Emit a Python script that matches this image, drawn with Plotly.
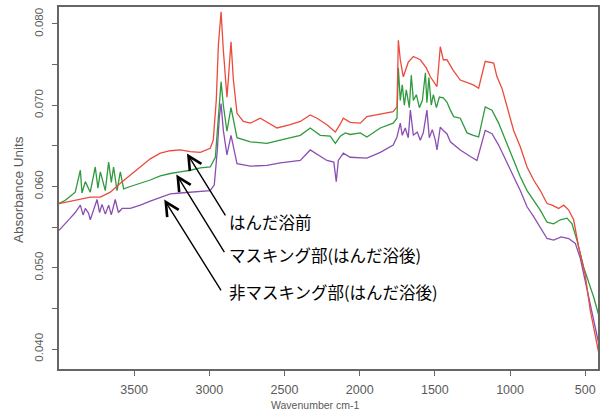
import plotly.graph_objects as go

# ---------------- data ----------------
red_wn = [4000, 3925, 3858, 3792, 3725, 3659, 3592, 3526, 3459, 3393, 3326, 3260, 3193, 3127, 3060, 2994, 2974, 2954, 2940, 2922,
          2907, 2883, 2874, 2856, 2840, 2816, 2774, 2727, 2661, 2617, 2550, 2462, 2395, 2329, 2284, 2218, 2162, 2129, 2109, 2063,
          1996, 1952, 1863, 1777, 1752, 1743, 1730, 1710, 1677, 1643, 1597, 1557, 1530, 1486, 1464, 1444, 1420, 1378, 1331, 1286,
          1244, 1209, 1165, 1109, 1087, 1054, 1020, 976, 932, 887, 843, 799, 754, 721, 677, 643, 610, 577, 544, 500,
          467, 433, 400]
red_abs = [0.0579, 0.0582, 0.0584, 0.0587, 0.0587, 0.0593, 0.0604, 0.0614, 0.0624, 0.0634, 0.0641, 0.0644, 0.0645, 0.0643, 0.0642, 0.0647, 0.0657, 0.0706, 0.0774, 0.0815,
           0.0768, 0.0710, 0.0731, 0.0778, 0.0731, 0.0690, 0.0680, 0.0678, 0.0684, 0.0679, 0.0672, 0.0676, 0.0680, 0.0688, 0.0684, 0.0676, 0.0667, 0.0677, 0.0684, 0.0679,
           0.0678, 0.0686, 0.0689, 0.0692, 0.0698, 0.0780, 0.0756, 0.0735, 0.0753, 0.0760, 0.0756, 0.0746, 0.0735, 0.0723, 0.0772, 0.0756, 0.0756, 0.0743, 0.0731, 0.0728,
           0.0725, 0.0721, 0.0754, 0.0752, 0.0735, 0.0721, 0.0698, 0.0669, 0.0649, 0.0624, 0.0608, 0.0595, 0.0579, 0.0577, 0.0573, 0.0577, 0.0571, 0.0559, 0.0526, 0.0491,
           0.0448, 0.0414, 0.0386]

green_wn = [4000, 3958, 3925, 3892, 3858, 3847, 3825, 3803, 3792, 3759, 3741, 3725, 3692, 3670, 3652, 3637, 3614, 3592, 3570, 3526,
            3459, 3393, 3326, 3260, 3193, 3127, 3060, 2994, 2960, 2940, 2922, 2907, 2883, 2856, 2816, 2727, 2617, 2528, 2395, 2329,
            2262, 2196, 2162, 2129, 2096, 2063, 1996, 1952, 1863, 1777, 1752, 1743, 1730, 1717, 1703, 1690, 1670, 1657, 1643, 1623,
            1603, 1583, 1563, 1553, 1540, 1524, 1510, 1490, 1470, 1444, 1420, 1397, 1375, 1331, 1286, 1244, 1209, 1165, 1120, 1076,
            1020, 976, 932, 887, 843, 799, 754, 710, 666, 621, 588, 555, 511, 444, 400]
green_abs = [0.0579, 0.0583, 0.0588, 0.0593, 0.0620, 0.0592, 0.0606, 0.0598, 0.0593, 0.0624, 0.0598, 0.0618, 0.0595, 0.0630, 0.0605, 0.0624, 0.0595, 0.0618, 0.0597, 0.0600,
             0.0604, 0.0608, 0.0613, 0.0616, 0.0618, 0.0620, 0.0623, 0.0624, 0.0636, 0.0682, 0.0729, 0.0700, 0.0668, 0.0697, 0.0660, 0.0655, 0.0653, 0.0657, 0.0663, 0.0672,
             0.0663, 0.0662, 0.0653, 0.0662, 0.0666, 0.0664, 0.0666, 0.0661, 0.0672, 0.0678, 0.0684, 0.0746, 0.0706, 0.0725, 0.0700, 0.0719, 0.0697, 0.0737, 0.0706, 0.0713,
             0.0697, 0.0706, 0.0740, 0.0703, 0.0734, 0.0700, 0.0713, 0.0697, 0.0710, 0.0709, 0.0704, 0.0694, 0.0686, 0.0684, 0.0666, 0.0663, 0.0661, 0.0698, 0.0694, 0.0678,
             0.0653, 0.0632, 0.0612, 0.0595, 0.0583, 0.0571, 0.0556, 0.0554, 0.0559, 0.0561, 0.0554, 0.0534, 0.0501, 0.0464, 0.0435]

purple_wn = [4000, 3958, 3925, 3892, 3858, 3840, 3825, 3803, 3792, 3770, 3747, 3730, 3714, 3692, 3670, 3652, 3626, 3605, 3580, 3526,
             3459, 3393, 3326, 3260, 3193, 3127, 3060, 2994, 2967, 2947, 2934, 2922, 2907, 2883, 2856, 2816, 2727, 2617, 2528, 2395,
             2329, 2262, 2218, 2172, 2156, 2142, 2109, 2063, 1996, 1952, 1863, 1777, 1752, 1730, 1717, 1697, 1677, 1663, 1643, 1617,
             1597, 1577, 1553, 1537, 1517, 1497, 1486, 1464, 1444, 1420, 1397, 1331, 1264, 1220, 1165, 1120, 1076, 1020, 976, 932,
             887, 843, 799, 754, 710, 660, 610, 566, 533, 467, 422, 400]
purple_abs = [0.0546, 0.0554, 0.0561, 0.0568, 0.0577, 0.0565, 0.0573, 0.0567, 0.0559, 0.0571, 0.0584, 0.0568, 0.0578, 0.0566, 0.0577, 0.0565, 0.0584, 0.0568, 0.0573, 0.0573,
              0.0577, 0.0582, 0.0587, 0.0591, 0.0592, 0.0593, 0.0594, 0.0595, 0.0602, 0.0645, 0.0684, 0.0702, 0.0669, 0.0639, 0.0663, 0.0628, 0.0625, 0.0626, 0.0629, 0.0632,
              0.0645, 0.0637, 0.0632, 0.0630, 0.0606, 0.0632, 0.0641, 0.0636, 0.0635, 0.0635, 0.0642, 0.0651, 0.0661, 0.0678, 0.0663, 0.0672, 0.0660, 0.0694, 0.0663, 0.0667,
              0.0657, 0.0666, 0.0694, 0.0660, 0.0670, 0.0657, 0.0645, 0.0673, 0.0669, 0.0665, 0.0655, 0.0645, 0.0637, 0.0632, 0.0669, 0.0665, 0.0651, 0.0628, 0.0612, 0.0595,
              0.0575, 0.0563, 0.0550, 0.0536, 0.0534, 0.0538, 0.0536, 0.0530, 0.0512, 0.0456, 0.0415, 0.0398]

x_ticks = [3500, 3000, 2500, 2000, 1500, 1000, 500]
y_ticks = [0.040, 0.045, 0.050, 0.055, 0.060, 0.065, 0.070, 0.075, 0.080]
y_tick_labels = ["0.040", "", "0.050", "", "0.060", "", "0.070", "", "0.080"]

labels = ["はんだ浴前", "マスキング部(はんだ浴後)", "非マスキング部(はんだ浴後)"]
# arrow tips (wavenumber, absorbance) and tails
tips = [(3149, 0.06407), (3220, 0.06148), (3300, 0.05840)]
tails = [(2887, 0.05626), (2894, 0.05175), (2916, 0.04702)]

# ---------------- layout geometry ----------------
W, H = 602, 416
ML, MR, MT, MB = 59, 4, 7, 47
PW, PH = W - ML - MR, H - MT - MB


def px(x):
    return (x - ML) / PW


def py(y):
    return (H - MB - y) / PH


AX = "#666666"
TXT = "#5a5a5a"
LAT = "Liberation Sans, Arial, sans-serif"
CJK = "Noto Sans CJK JP, sans-serif"

fig = go.Figure()
for wn, ab, col in [(purple_wn, purple_abs, "#8b4fb3"),
                    (green_wn, green_abs, "#2f9a3e"),
                    (red_wn, red_abs, "#ec4a3c")]:
    fig.add_trace(go.Scatter(x=wn, y=ab, mode="lines",
                             line=dict(color=col, width=1.3), showlegend=False,
                             hoverinfo="skip"))

annotations = []
for (tx, ty), (ax, ay) in zip(tips, tails):
    annotations.append(dict(x=tx, y=ty, xref="x", yref="y",
                            ax=ax, ay=ay, axref="x", ayref="y",
                            text="", showarrow=True, arrowhead=5,
                            arrowsize=1.9, arrowwidth=1.4, arrowcolor="black"))

text_y = [221.7, 255, 292]
for lab, yy in zip(labels, text_y):
    annotations.append(dict(x=px(227), y=py(yy), xref="paper", yref="paper",
                            text=lab, showarrow=False, xanchor="left", yanchor="middle",
                            font=dict(family=CJK, size=16.5, color="black")))

annotations.append(dict(x=px(315), y=py(404.5), xref="paper", yref="paper",
                        text="Wavenumber cm-1", showarrow=False,
                        xanchor="center", yanchor="middle",
                        font=dict(family=LAT, size=10.5, color=TXT)))
annotations.append(dict(x=px(18), y=py(190), xref="paper", yref="paper",
                        text="Absorbance Units", showarrow=False, textangle=-90,
                        xanchor="center", yanchor="middle",
                        font=dict(family=LAT, size=13.5, color=TXT)))

fig.update_layout(
    width=W, height=H,
    margin=dict(l=ML, r=MR, t=MT, b=MB, autoexpand=False),
    paper_bgcolor="white", plot_bgcolor="white",
    annotations=annotations,
    xaxis=dict(range=[4000, 415], tickvals=x_ticks, ticks="outside", ticklen=5,
               tickwidth=1.2, tickcolor=AX, showgrid=False, zeroline=False,
               showline=True, linecolor=AX, linewidth=1.6, mirror=True, automargin=False,
               tickfont=dict(family=LAT, size=12.5, color=TXT), ticklabelstandoff=3),
    yaxis=dict(range=[0.03754, 0.08209], tickvals=y_ticks, ticktext=y_tick_labels,
               ticks="outside", ticklen=5, tickwidth=1.2, tickcolor=AX, automargin=False,
               showgrid=False, zeroline=False, showline=True, linecolor=AX,
               linewidth=1.6, mirror=True, tickangle=-90,
               tickfont=dict(family=LAT, size=11.5, color=TXT), ticklabelstandoff=5),
)

# remove the default page margin so the figure sits at the window's top-left corner
fig.write_html("out.html",
               config={"displayModeBar": False},
               post_script="document.body.style.margin='0';document.body.style.overflow='hidden';")
